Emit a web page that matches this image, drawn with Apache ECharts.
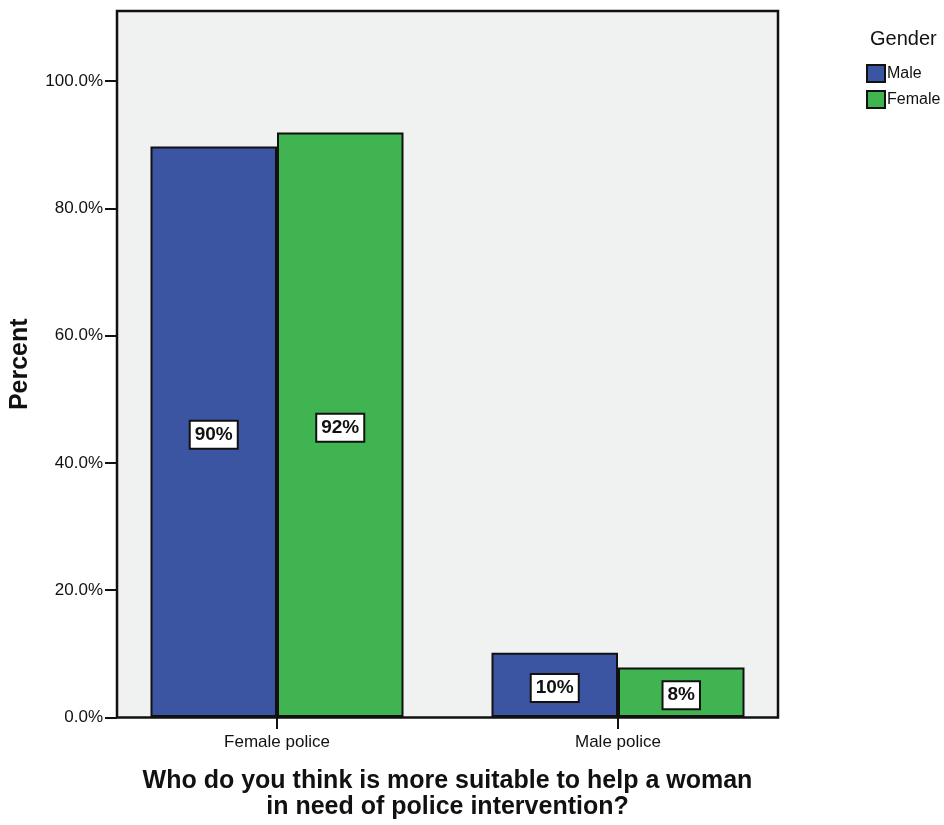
<!DOCTYPE html>
<html>
<head>
<meta charset="utf-8">
<script src="https://cdn.jsdelivr.net/npm/echarts@6/dist/echarts.min.js"></script>
<style>html,body{margin:0;padding:0;background:#fff;}#c{width:944px;height:825px;}</style>
</head>
<body>
<div id="c"></div>
<script>
const categories = ['Female police', 'Male police'];
const maleValues = [89.7, 10.1];
const femaleValues = [91.9, 7.8];
const seriesNames = ['Male', 'Female'];
const yTicks = [0, 20, 40, 60, 80, 100];

const FONT = '"Liberation Sans", Arial, sans-serif';
const chart = echarts.init(document.getElementById('c'));

const labelStyle = {
  show: true,
  position: 'inside',
  offset: [0, 3],
  formatter: p => Math.round(p.value) + '%',
  backgroundColor: '#fff',
  borderColor: '#111',
  borderWidth: 2,
  padding: [4, 4, 3, 4],
  color: '#111',
  fontFamily: FONT,
  fontSize: 19,
  fontWeight: 'bold'
};

chart.setOption({
  animation: false,
  grid: [
    { left: 117, top: 11, width: 661, height: 706.5, show: true, backgroundColor: '#f0f1f1', borderColor: '#111', borderWidth: 2.5 },
    { left: 106.5, top: 11, width: 682, height: 706.5, show: false }
  ],
  title: {
    text: 'Gender', left: 865, top: 24,
    textStyle: { fontFamily: FONT, fontSize: 20, fontWeight: 'normal', color: '#111' }
  },
  legend: {
    orient: 'vertical', left: 861, top: 59, itemWidth: 18, itemHeight: 17, itemGap: 7,
    icon: 'rect', data: seriesNames,
    textStyle: { fontFamily: FONT, fontSize: 16, color: '#111', padding: [0, 0, 0, -3] }
  },
  xAxis: [
    { type: 'value', gridIndex: 0, min: 0, max: 1, show: false },
    {
      type: 'category', gridIndex: 1, data: categories,
      axisLine: { show: false },
      axisTick: { show: true, alignWithLabel: true, length: 12, lineStyle: { color: '#111', width: 2 } },
      axisLabel: { fontFamily: FONT, fontSize: 17, color: '#111', margin: 17 },
      name: 'Who do you think is more suitable to help a woman\nin need of police intervention?',
      nameLocation: 'middle', nameGap: 51,
      nameTextStyle: { fontFamily: FONT, fontSize: 25, fontWeight: 'bold', color: '#111', lineHeight: 26 }
    }
  ],
  yAxis: [
    {
      type: 'value', gridIndex: 0, min: 0, max: 111, interval: 20,
      axisLine: { show: false },
      splitLine: { show: false },
      axisTick: { show: true, length: 12, lineStyle: { color: '#111', width: 2 },
        customValues: yTicks },
      axisLabel: { fontFamily: FONT, fontSize: 17, color: '#111', margin: 14,
        customValues: yTicks, formatter: v => v.toFixed(1) + '%' },
      name: 'Percent', nameLocation: 'middle', nameGap: 84, nameRotate: 90,
      nameTextStyle: { fontFamily: FONT, fontSize: 25, fontWeight: 'bold', color: '#111' }
    },
    { type: 'value', gridIndex: 1, min: 0, max: 111, show: false }
  ],
  series: [
    {
      name: seriesNames[0], type: 'bar', xAxisIndex: 1, yAxisIndex: 1,
      data: maleValues, barWidth: 126.5, barGap: '0%',
      itemStyle: { color: '#3b55a3', borderColor: '#111', borderWidth: 2 },
      label: labelStyle
    },
    {
      name: seriesNames[1], type: 'bar', xAxisIndex: 1, yAxisIndex: 1,
      data: femaleValues, barWidth: 126.5, barGap: '0%',
      itemStyle: { color: '#40b450', borderColor: '#111', borderWidth: 2 },
      label: labelStyle
    }
  ]
});
</script>
</body>
</html>
